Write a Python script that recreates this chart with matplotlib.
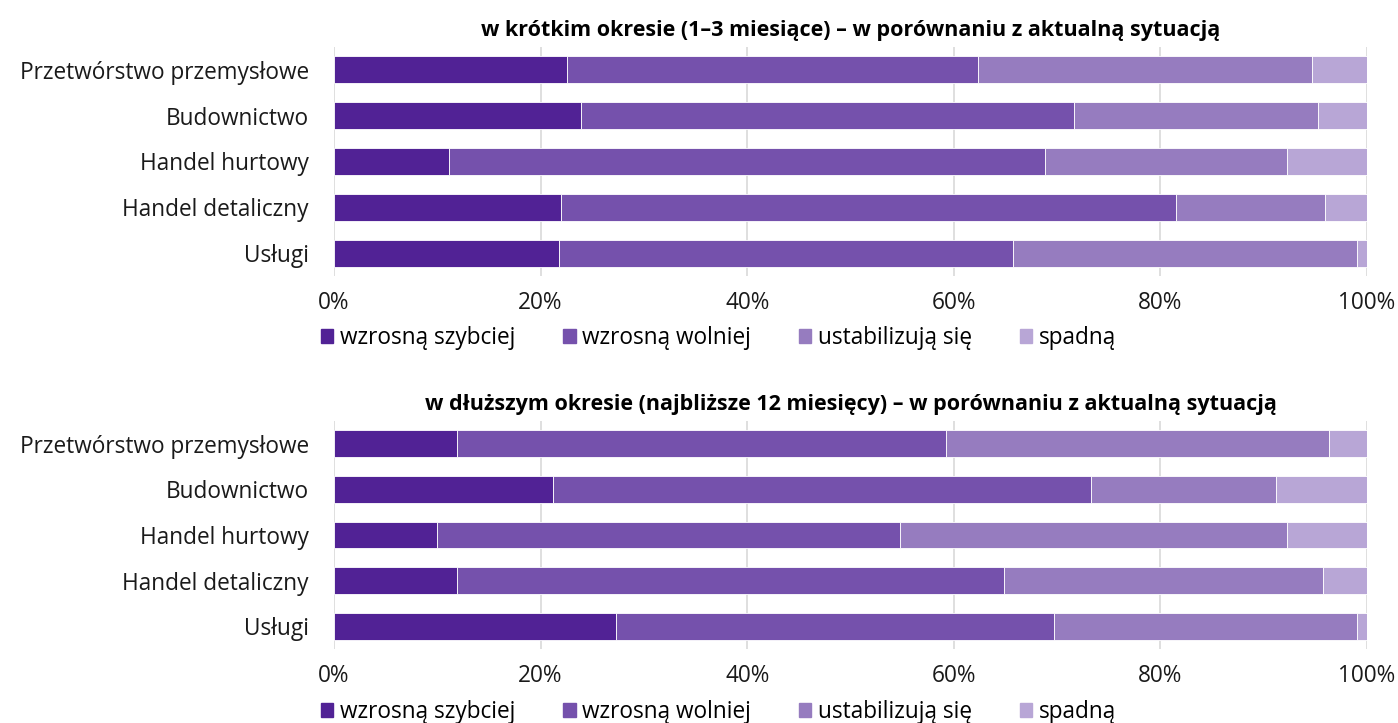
import numpy as np
import matplotlib.pyplot as plt
from matplotlib.ticker import PercentFormatter
from matplotlib.patches import Patch

plt.rcParams['font.family'] = ['Open Sans', 'DejaVu Sans']

sectors = ['Przetwórstwo przemysłowe', 'Budownictwo', 'Handel hurtowy',
           'Handel detaliczny', 'Usługi']
series = ['wzrosną szybciej', 'wzrosną wolniej', 'ustabilizują się', 'spadną']
colors = ['#512295', '#7551ac', '#967cbf', '#b8a6d6']

# short term (1-3 months), shares in %
short_faster = [22.6, 23.9, 11.1, 22.0, 21.8]
short_slower = [39.7, 47.7, 57.7, 59.5, 43.9]
short_stable = [32.4, 23.7, 23.5, 14.4, 33.3]
short_fall = [5.3, 4.7, 7.7, 4.1, 1.0]

# longer term (12 months), shares in %
long_faster = [11.9, 21.2, 10.0, 11.9, 27.3]
long_slower = [47.3, 52.1, 44.8, 53.0, 42.4]
long_stable = [37.1, 17.9, 37.5, 30.8, 29.3]
long_fall = [3.7, 8.8, 7.7, 4.3, 1.0]

titles = ['w krótkim okresie (1–3 miesiące) – w porównaniu z aktualną sytuacją',
          'w dłuższym okresie (najbliższe 12 miesięcy) – w porównaniu z aktualną sytuacją']

fig = plt.figure(figsize=(13.98, 7.23), dpi=100)
ax_top = fig.add_axes([334 / 1398, 1 - 276 / 723, 1033 / 1398, 229 / 723])
ax_bot = fig.add_axes([334 / 1398, 1 - 649 / 723, 1033 / 1398, 228 / 723])

panels = [
    (ax_top, [short_faster, short_slower, short_stable, short_fall], titles[0], 338),
    (ax_bot, [long_faster, long_slower, long_stable, long_fall], titles[1], 712),
]

for ax, data, title, leg_y in panels:
    y = np.arange(len(sectors))
    left = np.zeros(len(sectors))
    for vals, name, c in zip(data, series, colors):
        ax.barh(y, vals, left=left, height=0.59, color=c, edgecolor='white',
                linewidth=0.6, label=name, zorder=3)
        left += np.array(vals)
    ax.set_xlim(0, 100)
    ax.set_ylim(len(sectors) - 0.5, -0.5)
    ax.set_yticks(y)
    ax.set_yticklabels(sectors)
    ax.set_xticks(np.arange(0, 101, 20))
    ax.xaxis.set_major_formatter(PercentFormatter(decimals=0))
    ax.tick_params(axis='both', length=0, labelsize=16.3, colors='#1a1a1a')
    ax.tick_params(axis='y', pad=18)
    ax.tick_params(axis='x', pad=11)
    ax.grid(axis='x', color='#d9d9d9', linewidth=1.2, zorder=0)
    for s in ax.spines.values():
        s.set_visible(False)
    ax.set_title(title, fontsize=15.5, fontweight='bold', pad=8)

    handles = [Patch(color=c) for c in colors]
    fig.legend(handles, series, loc='center left',
               bbox_to_anchor=(321 / 1398, 1 - leg_y / 723), ncol=4,
               frameon=False, fontsize=16.3, handlelength=0.55, handleheight=0.55,
               handletextpad=0.3, columnspacing=2.1, borderaxespad=0, borderpad=0)

fig.savefig('out.png', dpi=100, facecolor='white')
